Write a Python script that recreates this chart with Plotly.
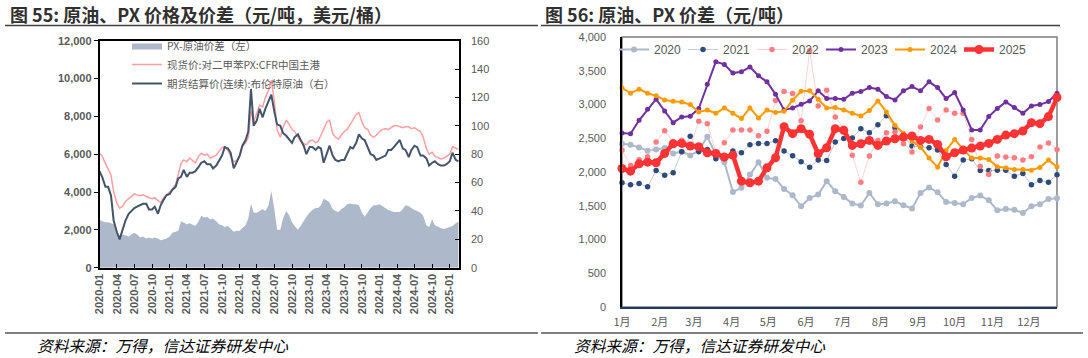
import pandas as pd
import plotly.graph_objects as go

# ---------------- Left chart data (semi-monthly, 2020-01 .. 2025-02) ----------------
left_dates = [d for m in pd.date_range("2020-01-01", "2025-02-01", freq="MS")
              for d in (m, m + pd.Timedelta(days=14))]

brent = [68, 64, 57, 57, 51, 33, 25, 20, 27, 33, 38, 40, 42, 43, 44, 45, 45, 41, 41, 43, 38, 44, 48, 51,
         52, 55, 57, 63, 64, 69, 64, 67, 67, 68, 71, 74, 75, 73, 73, 70, 72, 75, 79, 85, 84, 81, 70, 74,
         79, 86, 90, 96, 126, 100, 104, 112, 106, 112, 118, 122, 110, 101, 100, 95, 93, 91, 88, 92, 94, 90, 86, 80,
         85, 85, 83, 85, 84, 74, 80, 86, 79, 76, 75, 76, 76, 80, 85, 84, 88, 94, 91, 90, 85, 80, 79, 76,
         77, 78, 79, 83, 83, 85, 88, 90, 84, 83, 78, 83, 86, 85, 79, 79, 77, 72, 74, 75, 73, 72, 72, 73,
         75, 81, 76, 75]

px_spot = [6050, 5900, 5500, 5200, 4900, 4000, 3400, 3150, 3250, 3500, 3650, 3800, 3900, 3850, 3800, 3850, 3750, 3700, 3650, 3700, 3550, 3450, 3700, 3850,
           4000, 4150, 4400, 4900, 5500, 5700, 5600, 5800, 5650, 5550, 5900, 6050, 5950, 6000, 5800, 5850, 5950, 6150, 6350, 6400, 6200, 5900, 5600, 5650,
           5900, 6400, 6600, 6900, 8300, 7700, 8200, 8600, 8500, 9000, 9400, 9900, 8800, 7300, 6900, 7400, 7800, 7600, 7300, 7200, 6900, 6700, 6550, 6500,
           6700, 6750, 6600, 6700, 7000, 7300, 7700, 7800, 7100, 6900, 6800, 7000, 7200, 7300, 7600, 7800, 8100, 8200, 7700, 7400, 7300, 7000, 6900, 7000,
           7200, 7300, 7350, 7300, 7400, 7500, 7500, 7450, 7400, 7450, 7450, 7350, 7400, 7300, 7200, 6900, 6300, 6000, 6100, 5900, 5800, 5750, 5800, 5900,
           6000, 6400, 6300, 6250]

spread = [2550, 2450, 2400, 2400, 2350, 2300, 1850, 1700, 1750, 1700, 1650, 1750, 1850, 1750, 1600, 1650, 1550, 1600, 1550, 1600, 1550, 1450, 1500, 1550,
          1650, 1850, 1900, 1950, 2450, 2400, 2300, 2350, 2250, 2200, 2450, 2750, 2650, 2700, 2550, 2600, 2450, 2300, 2250, 2150, 2200, 2050, 1900, 1950,
          1950, 2100, 2250, 2600, 3400, 2900, 2900, 3000, 3100, 3000, 3300, 4050, 3100, 2000, 2000, 2600, 3000, 2800, 2400, 2200, 2000, 2200, 2500, 2700,
          2900, 3050, 3150, 3150, 3300, 3650, 3550, 3450, 3100, 3000, 2950, 3100, 3200, 3350, 3400, 3350, 3350, 3300, 2900, 2700, 2950, 3150, 3300, 3300,
          3350, 3250, 3150, 3050, 3000, 2950, 2950, 2950, 3100, 3300, 3250, 3150, 3050, 3000, 2900, 2750, 2250, 2150, 2550, 2250, 2150, 2100, 2050, 2100,
          2150, 2200, 2350, 2430]

left_names = ["PX-原油价差（左）", "现货价:对二甲苯PX:CFR中国主港", "期货结算价(连续):布伦特原油（右）"]

# ---------------- Right chart data (weekly, 52 weeks) ----------------
week_dates = pd.date_range("2025-01-01", periods=52, freq="7D")
month_labels = ["1月", "2月", "3月", "4月", "5月", "6月", "7月", "8月", "9月", "10月", "11月", "12月"]
years = ["2020", "2021", "2022", "2023", "2024", "2025"]

s2020 = [2419, 2404, 2364, 2315, 2335, 2354, 2275, 2305, 2245, 2320, 2523, 2260, 2146, 1705, 1765, 1963, 2146, 1913, 1898, 1750,
         1656, 1492, 1616, 1665, 1864, 1715, 1631, 1532, 1502, 1690, 1522, 1532, 1566, 1507, 1458, 1690, 1770, 1700, 1556, 1541,
         1522, 1616, 1651, 1581, 1432, 1452, 1442, 1393, 1492, 1522, 1601, 1611]
s2021 = [1839, 1810, 1829, 1780, 2022, 1953, 1988, 2300, 2528, 2300, 2335, 2196, 2200, 2310, 2285, 2404, 2424, 2424, 2464, 2310,
         2240, 2151, 2072, 2176, 2171, 2444, 2498, 2503, 2642, 2583, 2701, 2835, 2657, 2533, 2384, 2374, 2360, 2325, 2112, 1938,
         2176, 2196, 2022, 2022, 2027, 2027, 1938, 1978, 1810, 1874, 1849, 1958]
s2022 = [2325, 2097, 2180, 2226, 2444, 2612, 2444, 2470, 2380, 2751, 2716, 2290, 2434, 2622, 2622, 2622, 2538, 2602, 3058, 3192,
         3162, 2761, 3797, 2979, 3212, 2815, 2650, 2250, 1849, 2236, 2468, 2580, 2592, 2419, 2295, 2667, 2939, 2771, 2919, 2870,
         2870, 2483, 2087, 1963, 2236, 2221, 2211, 2176, 2226, 2369, 2429, 2335]
s2023 = [2577, 2567, 2766, 2929, 3078, 2904, 2731, 2815, 2825, 2940, 3301, 3633, 3594, 3465, 3484, 3554, 3425, 3336, 3152, 2919,
         2949, 3004, 3053, 3202, 3088, 3088, 3078, 3167, 3192, 3251, 3227, 3118, 3068, 3202, 3266, 3202, 3336, 3251, 3088, 3177,
         2919, 2622, 2622, 2821, 2939, 3038, 2954, 2870, 2979, 2999, 3043, 3167]
s2024 = [3247, 3167, 3227, 3167, 3128, 3068, 3048, 3038, 2999, 2890, 2919, 2870, 2949, 2870, 2791, 2949, 2801, 2919, 2880, 2900,
         3063, 3197, 3202, 3078, 2949, 2954, 2919, 2870, 2830, 2910, 3053, 2890, 2691, 2573, 2459, 2369, 2206, 2072, 2320, 2483,
         2335, 2206, 2206, 2186, 2077, 2062, 2037, 2037, 2027, 2067, 2176, 2077]
s2025 = [2052, 2012, 2121, 2146, 2136, 2275, 2419, 2424, 2384, 2374, 2285, 2275, 2221, 2250, 1864, 1839, 1864, 2062, 2211, 2672,
         2568, 2642, 2558, 2270, 2360, 2642, 2617, 2394, 2419, 2468, 2394, 2459, 2493, 2518, 2533, 2468, 2483, 2409, 2226, 2285,
         2325, 2354, 2384, 2424, 2483, 2547, 2568, 2607, 2731, 2716, 2821, 3103]
year_series = [s2020, s2021, s2022, s2023, s2024, s2025]

# ---------------- Styles ----------------
FONT = "Liberation Sans, Arial, Noto Sans CJK SC, sans-serif"
CJK = "Noto Sans CJK SC, Liberation Sans, sans-serif"
GRAY = "#595959"

W, H = 1088, 358
def px_x(v): return v / W
def px_y(v): return 1 - v / H

fig = go.Figure()

# Left chart traces
fig.add_trace(go.Scatter(x=left_dates, y=spread, name=left_names[0], mode="lines",
                         line=dict(width=0, color="#adb9ca"), fill="tozeroy", fillcolor="#adb9ca",
                         xaxis="x", yaxis="y", legend="legend"))
fig.add_trace(go.Scatter(x=left_dates, y=px_spot, name=left_names[1], mode="lines",
                         line=dict(width=1.5, color="#ff9f9f"), xaxis="x", yaxis="y", legend="legend"))
fig.add_trace(go.Scatter(x=left_dates, y=brent, name=left_names[2], mode="lines",
                         line=dict(width=2, color="#44546a"), xaxis="x", yaxis="y2", legend="legend"))

# Right chart traces
styles = {
    "2020": dict(line=dict(color="#adb9ca", width=2), marker=dict(color="#adb9ca", size=6)),
    "2021": dict(line=dict(color="#c3cad6", width=1), marker=dict(color="#2f4b7c", size=5.5)),
    "2022": dict(line=dict(color="#ffd3d3", width=1), marker=dict(color="#ff7c80", size=5.5)),
    "2023": dict(line=dict(color="#7030a0", width=2), marker=dict(color="#7030a0", size=5)),
    "2024": dict(line=dict(color="#ff9900", width=2), marker=dict(color="#ff9900", size=5)),
    "2025": dict(line=dict(color="#ff3333", width=4.5), marker=dict(color="#ff3333", size=9)),
}
for yr, ser in zip(years, year_series):
    fig.add_trace(go.Scatter(x=week_dates, y=ser, name=yr, mode="lines+markers",
                             cliponaxis=False, xaxis="x3", yaxis="y3", legend="legend2",
                             **styles[yr]))

tick_font = dict(family=FONT, size=11, color=GRAY)
bold_tick = dict(family=FONT, size=11, color=GRAY, weight="bold")

fig.update_layout(
    width=W, height=H,
    margin=dict(l=0, r=0, t=0, b=0, autoexpand=False),
    paper_bgcolor="white", plot_bgcolor="rgba(0,0,0,0)",
    showlegend=True,
    xaxis=dict(domain=[px_x(99.5), px_x(459)], anchor="y", type="date", automargin=False,
               range=["2020-01-01", "2025-02-18"], dtick="M3", tick0="2020-01-01",
               tickformat="%Y-%m", tickangle=-90, tickfont=bold_tick,
               ticks="inside", ticklen=4, tickcolor="black",
               showline=True, linecolor="black", linewidth=1.5, mirror=True,
               showgrid=False, zeroline=False),
    yaxis=dict(domain=[px_y(267.7), px_y(40.7)], anchor="x", range=[0, 12000], dtick=2000, automargin=False,
               tickformat=",d", tickfont=bold_tick, ticks="outside", ticklen=4, tickcolor="black",
               showline=True, linecolor="black", linewidth=1.5, showgrid=False, zeroline=False),
    yaxis2=dict(overlaying="y", anchor="x", side="right", range=[0, 160], dtick=20, automargin=False,
                tickfont=tick_font, ticks="inside", ticklen=4, tickcolor="black",
                showline=True, linecolor="black", linewidth=1.5, showgrid=False, zeroline=False,
                ticklabelstandoff=8),
    xaxis3=dict(domain=[px_x(622), px_x(1057)], anchor="y3", type="date", automargin=False,
                range=["2025-01-01", "2025-12-24"],
                tickvals=pd.date_range("2025-01-01", periods=12, freq="MS"), ticktext=month_labels,
                tickfont=dict(family=CJK, size=11, color=GRAY), ticks="", ticklabelstandoff=4,
                showline=True, linecolor="#203864", linewidth=1.5,
                showgrid=False, zeroline=False),
    yaxis3=dict(domain=[px_y(307), px_y(37)], anchor="x3", range=[0, 4000], dtick=500, automargin=False,
                tickformat=",d", tickfont=tick_font, ticks="", ticklabelstandoff=12,
                showline=True, linecolor="black", linewidth=1.5, showgrid=False, zeroline=False),
    legend=dict(x=px_x(127), y=px_y(31), xanchor="left", yanchor="top", orientation="v",
                bgcolor="rgba(0,0,0,0)", font=dict(family=CJK, size=10.5, color=GRAY),
                tracegroupgap=0, itemwidth=30),
    legend2=dict(x=px_x(614), y=px_y(35), xanchor="left", yanchor="top", orientation="h",
                 bgcolor="rgba(0,0,0,0)", font=dict(family=FONT, size=12, color=GRAY),
                 entrywidth=24, itemwidth=30),
)

# Frames and decorative lines
shapes = [
    dict(type="rect", xref="paper", yref="paper", x0=px_x(622), x1=px_x(1057), y0=px_y(307), y1=px_y(37),
         line=dict(color="#7f7f7f", width=1.5), layer="below"),
    dict(type="line", xref="paper", yref="paper", x0=px_x(5), x1=px_x(538), y0=px_y(25.5), y1=px_y(25.5),
         line=dict(color="#404040", width=1.5)),
    dict(type="line", xref="paper", yref="paper", x0=px_x(541), x1=px_x(1060), y0=px_y(25.5), y1=px_y(25.5),
         line=dict(color="#404040", width=1.5)),
    dict(type="line", xref="paper", yref="paper", x0=px_x(5), x1=px_x(538), y0=px_y(333), y1=px_y(333),
         line=dict(color="#808080", width=2)),
    dict(type="line", xref="paper", yref="paper", x0=px_x(541), x1=px_x(1083), y0=px_y(333), y1=px_y(333),
         line=dict(color="#808080", width=2)),
]
fig.update_layout(shapes=shapes)

annotations = [
    dict(text="图 55: 原油、PX 价格及价差（元/吨，美元/桶）", x=px_x(8), y=px_y(14), xref="paper", yref="paper",
         xanchor="left", yanchor="middle", showarrow=False,
         font=dict(family=CJK, size=18, color="#303030", weight="bold")),
    dict(text="图 56: 原油、PX 价差（元/吨）", x=px_x(543), y=px_y(14), xref="paper", yref="paper",
         xanchor="left", yanchor="middle", showarrow=False,
         font=dict(family=CJK, size=18, color="#303030", weight="bold")),
    dict(text="资料来源：万得，信达证券研发中心", x=px_x(35), y=px_y(345), xref="paper", yref="paper",
         xanchor="left", yanchor="middle", showarrow=False,
         font=dict(family=CJK, size=15.7, color="black", style="italic")),
    dict(text="资料来源：万得，信达证券研发中心", x=px_x(572), y=px_y(345), xref="paper", yref="paper",
         xanchor="left", yanchor="middle", showarrow=False,
         font=dict(family=CJK, size=15.7, color="black", style="italic")),
]
fig.update_layout(annotations=annotations)

fig.write_html("out.html", config={"displayModeBar": False},
               post_script="document.body.style.margin='0';document.body.style.overflow='hidden';")
